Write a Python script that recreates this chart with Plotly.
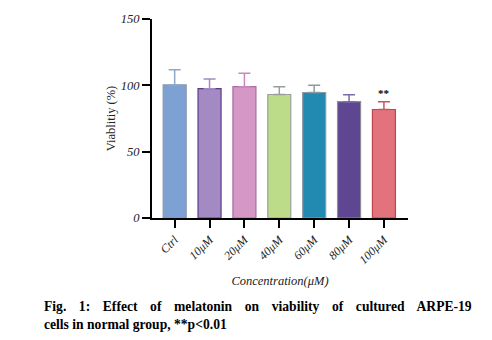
import plotly.graph_objects as go

categories = ["Ctrl", "10μM", "20μM", "40μM", "60μM", "80μM", "100μM"]
viability = [100.3, 97.5, 99.0, 93.1, 94.6, 87.7, 81.8]
sd = [11.5, 7.2, 10.1, 5.9, 5.4, 5.2, 5.9]
fill_colors = ["#7EA1D4", "#A48AC2", "#D497C6", "#BCDC8A", "#228AB0", "#5F4693", "#E2727B"]
line_colors = ["#8C96A8", "#5B3A8C", "#A86EA3", "#9AA39A", "#8C9AA3", "#8C8C96", "#C0454F"]
err_colors = ["#8FA8CC", "#A48AC2", "#C887BE", "#9A9E9A", "#8C9AA3", "#7F6BA8", "#C85560"]
yticks = [0, 50, 100, 150]

SERIF = "Liberation Serif"

fig = go.Figure()
for i, c in enumerate(categories):
    fig.add_trace(go.Bar(
        x=[c], y=[viability[i]], width=0.66,
        marker=dict(color=fill_colors[i], line=dict(color=line_colors[i], width=1.2)),
        error_y=dict(type="data", array=[sd[i]], visible=True, symmetric=False,
                     arrayminus=[0], color=err_colors[i], thickness=1.5, width=6),
        showlegend=False,
    ))

fig.add_annotation(x=categories[-1], y=viability[-1] + sd[-1], text="<b>**</b>",
                   showarrow=False, yanchor="bottom", yshift=1,
                   font=dict(family=SERIF, size=11, color="black"))

fig.update_layout(
    width=492, height=340,
    margin=dict(l=152, r=84, t=15, b=122),
    paper_bgcolor="white", plot_bgcolor="white",
    barmode="overlay",
    xaxis=dict(
        type="category", range=[-0.65, 6.69],
        tickmode="array", tickvals=categories,
        ticktext=["<i>%s</i>" % c for c in categories],
        tickangle=-45, showline=True, linecolor="black", linewidth=2,
        ticks="outside", ticklen=8, tickwidth=2, tickcolor="black",
        tickfont=dict(family=SERIF, size=12, color="#222"),
        showgrid=False, zeroline=False,
        title=dict(text="<i>Concentration(μM)</i>", font=dict(family=SERIF, size=12.5, color="#222"), standoff=10),
    ),
    yaxis=dict(
        range=[0, 150], tickmode="array", tickvals=yticks,
        ticktext=["<i>%d</i>" % v for v in yticks],
        showline=True, linecolor="black", linewidth=2,
        ticks="outside", ticklen=8, tickwidth=2, tickcolor="black",
        tickfont=dict(family=SERIF, size=12.5, color="#222"),
        showgrid=False, zeroline=False,
        title=dict(text="Viablitiy (%)", font=dict(family=SERIF, size=12.5, color="#222"), standoff=2),
    ),
)

fig.add_annotation(xref="paper", yref="paper", x=-0.43, y=-0.446, xanchor="left", yanchor="middle",
                   text='<span style="word-spacing:9.2px"><b>Fig. 1: Effect of melatonin on viability of cultured ARPE-19</b></span>',
                   showarrow=False, font=dict(family=SERIF, size=13.6, color="black"))
fig.add_annotation(xref="paper", yref="paper", x=-0.43, y=-0.537, xanchor="left", yanchor="middle",
                   text="<b>cells in normal group, **p<0.01</b>",
                   showarrow=False, font=dict(family=SERIF, size=13.6, color="black"))

fig.write_html("out.html")
